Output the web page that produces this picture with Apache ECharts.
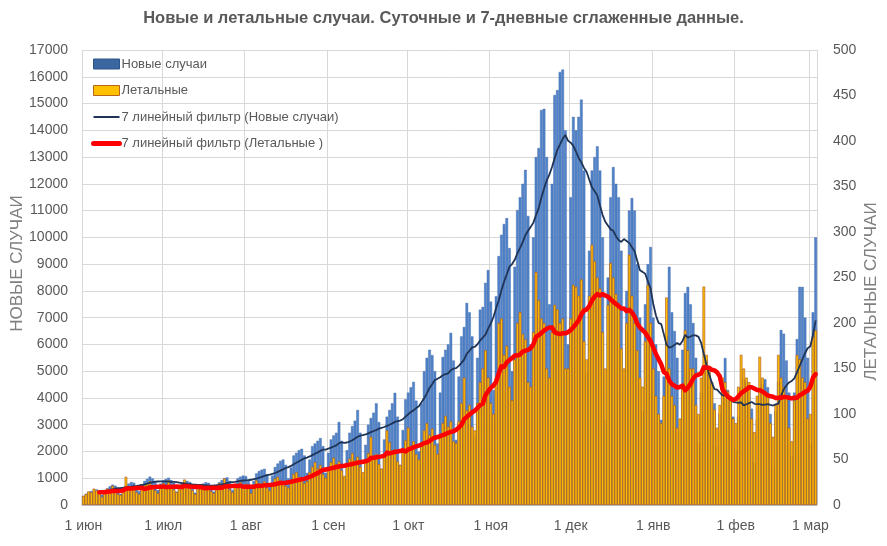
<!DOCTYPE html>
<html>
<head>
<meta charset="utf-8">
<title>Новые и летальные случаи</title>
<script src="https://cdn.jsdelivr.net/npm/echarts@6.0.0/dist/echarts.min.js"></script>
<style>
  html, body { margin: 0; padding: 0; background: #ffffff; }
  #chart { width: 887px; height: 546px; }
</style>
</head>
<body>
<div id="chart"></div>
<script>
const startDate = '2020-06-01';
const monthNames = ['янв', 'фев', 'мар', 'апр', 'май', 'июн', 'июл', 'авг', 'сен', 'окт', 'ноя', 'дек'];

// daily new cases, one row per week (Mon..Sun), from 1 Jun
const newCases = [
  340, 420, 480, 520, 560, 580, 510,
  380, 560, 620, 700, 760, 720, 640,
  420, 650, 720, 800, 860, 830, 720,
  520, 780, 900, 980, 1060, 990, 880,
  560, 800, 920, 970, 1020, 930, 830,
  500, 700, 800, 850, 900, 860, 760,
  460, 640, 760, 800, 850, 830, 740,
  500, 700, 850, 930, 1000, 1030, 900,
  560, 760, 1000, 1060, 1100, 1080, 950,
  650, 900, 1180, 1270, 1320, 1350, 1150,
  760, 1100, 1420, 1550, 1650, 1700, 1500,
  1000, 1400, 1850, 1950, 2050, 2100, 1850,
  1200, 1700, 2200, 2300, 2400, 2500, 2200,
  1200, 1950, 2450, 2600, 2700, 3100, 2400,
  1050, 2050, 2700, 2950, 3150, 3550, 2700,
  1150, 2250, 3000, 3250, 3450, 3800, 3100,
  1350, 2450, 3300, 3550, 3800, 4190, 3300,
  1500, 2800, 3950, 4200, 4400, 4600, 3900,
  2000, 3800, 5000, 5500, 5800, 5600, 5000,
  2300, 4200, 5530, 5800, 6000, 6430, 5400,
  2430, 4800, 6300, 6650, 7550, 7200, 6300,
  2540, 5500, 7300, 7400, 8300, 8780, 7600,
  4300, 7800, 9300, 10100, 10500, 10720, 9600,
  5000, 8900, 11020, 11500, 12000, 12520, 10800,
  6000, 10000, 13000, 13340, 14760, 14800, 13000,
  7500, 12000, 15320, 15500, 16180, 16270, 14000,
  6000, 11500, 14500, 14000, 14500, 15150, 12500,
  4930, 9500, 12500, 13000, 13400, 12500, 10000,
  3180, 8500, 11500, 12630, 12000, 11500, 9500,
  3920, 8000, 11000, 11470, 11000, 9000, 7000,
  3500, 7500, 9000, 9640, 7000, 6000, 5000,
  3180, 4800, 6300, 8900, 7200, 6500, 5500,
  2700, 5800, 7920, 8150, 7500, 6800, 5500,
  2310, 4200, 5000, 5400, 5000, 4600, 3800,
  2180, 3400, 4300, 5490, 4300, 4000, 3300,
  2050, 3300, 4400, 4700, 4600, 4300, 3600,
  1570, 3200, 4400, 4500, 4700, 4400, 3400,
  1420, 3500, 4600, 6540, 6400, 5400, 4200,
  1800, 4200, 6200, 8150, 8150, 7000, 5500,
  2300, 7200, 10000
];

// daily deaths, same layout
const deaths = [
  10, 12, 15, 14, 18, 16, 13,
  9, 14, 18, 16, 21, 17, 12,
  11, 17, 31, 20, 18, 19, 14,
  12, 19, 22, 24, 26, 20, 16,
  13, 20, 24, 19, 27, 21, 17,
  14, 18, 22, 28, 24, 19, 16,
  12, 20, 19, 23, 20, 22, 15,
  13, 18, 24, 21, 29, 23, 17,
  14, 21, 20, 25, 21, 23, 18,
  13, 20, 27, 24, 23, 26, 19,
  16, 22, 29, 31, 27, 25, 21,
  19, 27, 34, 36, 31, 30, 24,
  26, 36, 42, 47, 40, 44, 34,
  30, 40, 47, 52, 45, 48, 38,
  32, 45, 51, 57, 49, 53, 42,
  36, 49, 57, 75, 52, 56, 45,
  40, 53, 82, 69, 58, 61, 48,
  44, 60, 71, 85, 65, 70, 56,
  50, 68, 82, 90, 77, 84, 66,
  56, 75, 90, 98, 86, 92, 70,
  68, 92, 112, 140, 104, 110, 86,
  82, 112, 135, 150, 170, 140, 112,
  100, 140, 200, 205, 165, 175, 130,
  115, 160, 200, 212, 188, 182, 135,
  130, 190, 256, 225, 205, 200, 150,
  140, 190, 220, 215, 200, 205, 150,
  150, 205, 242, 240, 230, 248, 180,
  160, 230, 286, 268, 250, 238, 190,
  150, 220, 266, 250, 232, 222, 172,
  150, 200, 275, 230, 200, 170, 140,
  130, 180, 242, 200, 150, 120, 100,
  90, 120, 228, 150, 120, 110, 85,
  95, 130, 192, 170, 150, 150, 110,
  100, 140, 240, 165, 150, 135, 105,
  85, 110, 140, 135, 125, 120, 95,
  90, 130, 165, 150, 140, 135, 95,
  80, 120, 163, 140, 125, 120, 90,
  75, 110, 165, 140, 130, 120, 85,
  70, 115, 165, 160, 140, 135, 95,
  100, 185, 192
];

function buildDates(start, n) {
  const out = [];
  const t0 = new Date(start + 'T00:00:00Z').getTime();
  for (let i = 0; i < n; i++) {
    out.push(new Date(t0 + i * 86400000).toISOString().slice(0, 10));
  }
  return out;
}

// 7-point trailing average, as Excel's moving-average trendline does it
function movingAverage(arr, period) {
  return arr.map((v, i) => {
    if (i < period - 1) return null;
    let s = 0;
    for (let k = i - period + 1; k <= i; k++) s += arr[k];
    return Math.round(s / period * 10) / 10;
  });
}

const dates = buildDates(startDate, newCases.length);
const casesMA = movingAverage(newCases, 7);
const deathsMA = movingAverage(deaths, 7);

const isMonthStart = (idx, val) => val.slice(8) === '01';
const FONT = '"Liberation Sans", Arial, sans-serif';
const GREY = '#595959';
const hidden = 'rgba(0,0,0,0)';

const chart = echarts.init(document.getElementById('chart'));
chart.setOption({
  animation: false,
  textStyle: { fontFamily: FONT },
  title: {
    text: 'Новые и летальные случаи. Суточные и 7-дневные сглаженные данные.',
    left: 'center',
    top: 5,
    textStyle: { fontSize: 16.5, fontWeight: 'bold', color: GREY, fontFamily: FONT }
  },
  legend: {
    orient: 'vertical',
    left: 86,
    top: 52,
    itemWidth: 26,
    itemHeight: 10,
    itemGap: 12.5,
    textStyle: { fontSize: 13, color: GREY, lineHeight: 14, fontFamily: FONT, padding: [0, 0, 0, -3] },
    data: [
      { name: 'Новые случаи', icon: 'rect', itemStyle: { color: '#3a67a0', borderColor: '#2d5589', borderWidth: 1 } },
      { name: 'Летальные', icon: 'rect', itemStyle: { color: '#ffc000', borderColor: '#b5651d', borderWidth: 1 } },
      {
        name: '7 линейный фильтр (Новые случаи)',
        itemStyle: { color: hidden, borderColor: hidden, borderWidth: 0 },
        lineStyle: { width: 2 }
      },
      {
        name: '7 линейный фильтр (Летальные )',
        itemStyle: { color: hidden, borderColor: hidden, borderWidth: 0 },
        lineStyle: { width: 5, cap: 'round' }
      }
    ]
  },
  grid: { left: 82, right: 70, top: 50, bottom: 41, outerBoundsMode: 'none' },
  xAxis: {
    type: 'category',
    data: dates,
    boundaryGap: true,
    axisLine: { lineStyle: { color: '#d0d0d0' } },
    axisTick: { interval: isMonthStart, length: 5, lineStyle: { color: '#c8c8c8' } },
    axisLabel: {
      interval: isMonthStart,
      color: GREY,
      fontSize: 14,
      margin: 14,
      formatter: v => '1 ' + monthNames[parseInt(v.slice(5, 7), 10) - 1]
    },
    splitLine: { show: true, interval: isMonthStart, lineStyle: { color: '#d9d9d9', width: 1 } }
  },
  yAxis: [
    {
      type: 'value',
      min: 0,
      max: 17000,
      interval: 1000,
      name: 'НОВЫЕ СЛУЧАИ',
      nameLocation: 'middle',
      nameGap: 56,
      nameMoveOverlap: false,
      nameTextStyle: { fontSize: 17, color: '#7f7f7f', fontFamily: FONT, padding: [0, 0, 0, 28] },
      axisLine: { show: false },
      axisTick: { show: false },
      axisLabel: { color: GREY, fontSize: 14, margin: 14, formatter: v => String(v) },
      splitLine: { lineStyle: { color: '#d9d9d9', width: 1 } }
    },
    {
      type: 'value',
      min: 0,
      max: 500,
      interval: 50,
      name: 'ЛЕТАЛЬНЫЕ СЛУЧАИ',
      nameLocation: 'middle',
      nameGap: 46,
      nameRotate: 90,
      nameMoveOverlap: false,
      nameTextStyle: { fontSize: 17, color: '#7f7f7f', fontFamily: FONT, padding: [0, 28, 0, 0] },
      axisLine: { show: false },
      axisTick: { show: false },
      axisLabel: { color: GREY, fontSize: 14, margin: 16, formatter: v => String(v) },
      splitLine: { show: false }
    }
  ],
  series: [
    {
      name: 'Новые случаи',
      type: 'bar',
      yAxisIndex: 0,
      data: newCases,
      barCategoryGap: '0%',
      barGap: '-100%',
      itemStyle: { color: '#5083cd', borderColor: '#3f679f', borderWidth: 0.4 }
    },
    {
      name: 'Летальные',
      type: 'bar',
      yAxisIndex: 1,
      data: deaths,
      barCategoryGap: '0%',
      barGap: '-100%',
      itemStyle: { color: '#ffc000', borderColor: '#a9521c', borderWidth: 0.6 }
    },
    {
      name: '7 линейный фильтр (Новые случаи)',
      type: 'line',
      yAxisIndex: 0,
      data: casesMA,
      symbol: 'none',
      lineStyle: { color: '#1f3456', width: 1.8 },
      itemStyle: { color: '#1f3456' }
    },
    {
      name: '7 линейный фильтр (Летальные )',
      type: 'line',
      yAxisIndex: 1,
      data: deathsMA,
      symbol: 'none',
      lineStyle: { color: '#ff0000', width: 4.5, cap: 'round', join: 'round' },
      itemStyle: { color: '#ff0000' }
    }
  ]
});
</script>
</body>
</html>
